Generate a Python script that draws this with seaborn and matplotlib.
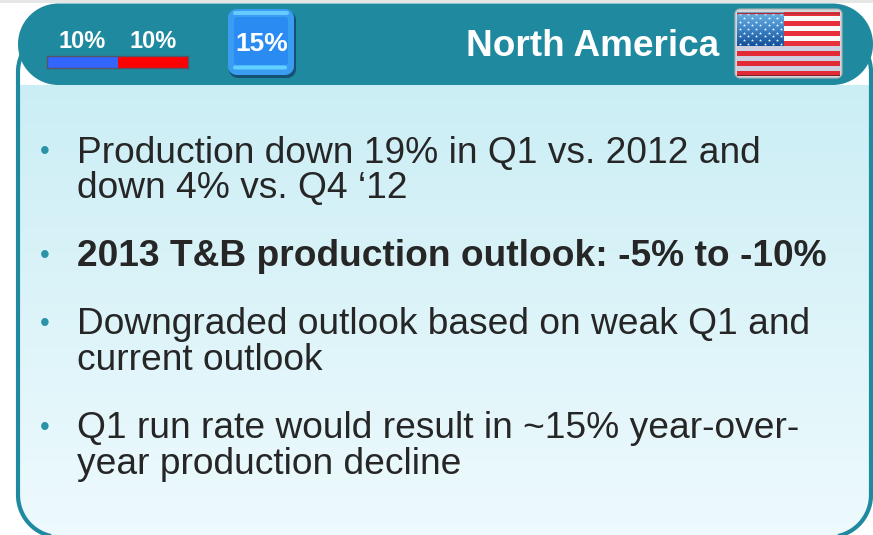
import numpy as np
import matplotlib
matplotlib.use("Agg")
import matplotlib.pyplot as plt
from matplotlib.patches import Polygon, Rectangle
from matplotlib.colors import ListedColormap, LinearSegmentedColormap
import seaborn as sns

sns.set_theme(style="white")
plt.rcParams['font.family'] = ['Liberation Sans', 'DejaVu Sans']

# Content
bar_values = [10, 10]
bar_colors = ["#3366ff", "#ff0000"]
badge_value = "15%"
title = "North America"
bullets = [
    (["Production down 19% in Q1 vs. 2012 and", "down 4% vs. Q4 \u201812"], "normal"),
    (["2013 T&B production outlook: -5% to -10%"], "bold"),
    (["Downgraded outlook based on weak Q1 and", "current outlook"], "normal"),
    (["Q1 run rate would result in ~15% year-over-", "year production decline"], "normal"),
]
bullet_first_y = [153, 257, 325, 429]
flag_stripes = [1, 0, 1, 0, 1, 0, 1, 2, 3, 2, 3, 2, 3]

W, H = 873, 535
TEAL = "#1f8a9f"
fig = plt.figure(figsize=(W / 100, H / 100), dpi=100, facecolor="white")
ax = fig.add_axes([0, 0, 1, 1])
ax.set_xlim(0, W)
ax.set_ylim(H, 0)
ax.axis("off")

def inset(x0, y0, x1, y1, z=5):
    return fig.add_axes([x0 / W, 1 - y1 / H, (x1 - x0) / W, (y1 - y0) / H], zorder=z)

def rounded(x0, y0, x1, y1, r, **kw):
    """Rounded rectangle with true circular corners."""
    t = np.linspace(0, np.pi / 2, 24)
    pts = []
    for cx, cy, a in [(x1 - r, y0 + r, -np.pi / 2), (x1 - r, y1 - r, 0),
                      (x0 + r, y1 - r, np.pi / 2), (x0 + r, y0 + r, np.pi)]:
        pts.append(np.c_[cx + r * np.cos(t + a), cy + r * np.sin(t + a)])
    return Polygon(np.vstack(pts), closed=True, **kw)

# faint page line on top
ax.add_patch(Rectangle((0, 0), W, 2.5, fc="#e6e6e6", ec="none", zorder=0))

# body panel with vertical gradient
ax.add_patch(rounded(18, 30, 871, 537, 42, fc="none", ec=TEAL, lw=3.0, zorder=3))
clip = rounded(18, 30, 871, 537, 42, fc="none", ec="none")
ax.add_patch(clip)
grad_cmap = LinearSegmentedColormap.from_list("panel", ["#cbeef5", "#eefafd"])
img = ax.imshow(np.linspace(0, 1, 256).reshape(-1, 1), cmap=grad_cmap, aspect="auto",
                extent=(18, 871, 537, 85), zorder=2)
img.set_clip_path(clip)
ax.set_xlim(0, W)
ax.set_ylim(H, 0)

# header pill
ax.add_patch(rounded(18, 3.5, 873, 85, 40.5, fc=TEAL, ec="none", zorder=4))

# small share bar
bar_ax = inset(47, 56, 188, 68, z=6)
left = 0
for v, c in zip(bar_values, bar_colors):
    sns.barplot(x=[v], y=[""], color=c, left=left, width=1.0, ax=bar_ax,
                saturation=1, edgecolor="none")
    bar_ax.text(left + v / 2, -1.68, f"{v}%", ha="center", va="center", color="white",
                fontsize=17, fontweight="bold", clip_on=False)
    left += v
bar_ax.set_xlim(0, sum(bar_values))
bar_ax.set_ylim(0.5, -0.5)
bar_ax.set_xticks([])
bar_ax.set_yticks([])
bar_ax.set_xlabel("")
bar_ax.set_ylabel("")
for s in bar_ax.spines.values():
    s.set_visible(True)
    s.set_color("#555566")
    s.set_linewidth(1.0)

# blue badge
ax.add_patch(rounded(229, 11, 296, 78, 9, fc="#123f66", ec="none", alpha=.75, zorder=5))
ax.add_patch(rounded(228, 9, 294, 75, 9, fc="#3a9df2", ec="none", zorder=6))
ax.add_patch(rounded(234, 17, 288, 65, 3, fc="#2a8cf2", ec="none", zorder=6.1))
ax.add_patch(rounded(233, 11, 289, 15, 2, fc="#66ccff", ec="none", zorder=6.2))
ax.add_patch(rounded(233, 65.5, 287, 69.5, 2, fc="#5fd0ff", ec="none", zorder=6.2))
ax.text(261.5, 44, badge_value, ha="center", va="center", color="white",
        fontsize=19, fontweight="bold", zorder=7)

# region title
ax.text(719, 46, title, ha="right", va="center", color="white",
        fontsize=26.6, fontweight="bold", zorder=7)

# flag
ax.add_patch(rounded(735, 9, 842, 78, 5, fc="#d4d6d8", ec="#aeb2b5", lw=0.8, zorder=5))
flag_ax = inset(737, 11.5, 840, 76.5, z=6)
flag_cmap = ListedColormap(["#fafafa", "#e8303c", "#ccd0e0", "#e22a36"])
sns.heatmap(np.array(flag_stripes).reshape(-1, 1), cmap=flag_cmap, vmin=-0.5, vmax=3.5,
            cbar=False, xticklabels=False, yticklabels=False, ax=flag_ax)
canton_cmap = LinearSegmentedColormap.from_list("canton", ["#6cb4e4", "#3f86c8", "#14509a"])
flag_ax.imshow(np.linspace(0, 1, 64).reshape(-1, 1), cmap=canton_cmap, aspect="auto",
               extent=(0, 0.455, 7, 0), zorder=3)
flag_ax.set_xlim(0, 1)
flag_ax.set_ylim(13, 0)
rows, cols = 9, 11
xs, ys = [], []
for r in range(rows):
    for c in range(cols):
        if (r + c) % 2 == 0:
            xs.append(0.025 + 0.0405 * c)
            ys.append(0.55 + r * 0.74)
flag_ax.scatter(xs, ys, s=5, c="white", marker="*", linewidths=0, zorder=4)
flag_ax.axhline(0.25, color="#b03038", lw=1.0, zorder=5)
flag_ax.axhline(12.85, color="#7a2028", lw=2.2, zorder=5)
flag_ax.axis("off")

# bullet text
for (lines, weight), y0 in zip(bullets, bullet_first_y):
    ax.text(45, y0 - 1, "\u2022", ha="center", va="center", color="#2a93a8",
            fontsize=20, zorder=8)
    for i, line in enumerate(lines):
        ax.text(77, y0 + i * 35.5, line, ha="left", va="center", color="#262626",
                fontsize=26.7, fontweight=weight, zorder=8)

fig.savefig("out.png", dpi=100, facecolor="white")
